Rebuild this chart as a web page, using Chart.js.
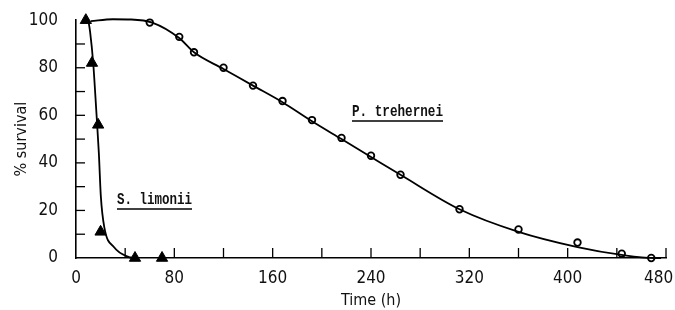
<!DOCTYPE html>
<html>
<head>
<meta charset="utf-8">
<script src="https://cdn.jsdelivr.net/npm/chart.js@4/dist/chart.umd.min.js"></script>
<style>
  html, body { margin: 0; padding: 0; background: #fff; }
  #wrap { width: 675px; height: 310px; position: relative; }
</style>
</head>
<body>
<div id="wrap"><canvas id="chart" width="675" height="310"></canvas></div>
<script>
// measured points, time (h) vs % survival
const trehTime = [60, 84, 96, 120, 144, 168, 192, 216, 240, 264, 312, 360, 408, 444, 468];
const trehSurv = [99, 93, 86.5, 80, 72.5, 66, 58, 50.5, 43, 35, 20.5, 12, 6.5, 1.8, 0];
const limTime = [8, 13, 18, 20, 48, 70];
const limSurv = [100, 82, 56, 11, 0, 0];

// fitted curves as drawn on the figure
const trehCurveTime = [12, 30, 45, 62, 84, 96, 120, 144, 168, 192, 216, 240, 264, 312, 360, 408, 444, 470, 476];
const trehCurveSurv = [99.6, 100.4, 100.3, 99, 92.5, 86.5, 79.5, 72.5, 65.5, 57.5, 50, 42.5, 35, 20.5, 11, 4.6, 1.3, 0, 0];
const limCurveTime = [10, 11.5, 14, 16.5, 18.6, 20.2, 23, 31, 43, 47];
const limCurveSurv = [100, 95, 82, 62, 44, 26, 13, 4.5, 0.4, 0];

const xTicks = [0, 80, 160, 240, 320, 400, 480];
const yTicks = [0, 20, 40, 60, 80, 100];

const pts = (xs, ys) => xs.map((x, i) => ({ x: x, y: ys[i] }));
const font = "'Liberation Sans Narrow', 'DejaVu Sans Condensed', sans-serif";

const labels = [
  { text: "P. trehernei", x: 352, y: 116, w: 91, line: 121 },
  { text: "S. limonii", x: 117, y: 204, w: 75, line: 209 }
];

const decor = {
  id: "decor",
  afterDraw(chart) {
    const ctx = chart.ctx;
    const xs = chart.scales.x, ys = chart.scales.y;
    ctx.save();
    ctx.strokeStyle = "#000";
    ctx.lineWidth = 1.3;
    // inward ticks
    for (let v = 40; v <= 480; v += 40) {
      const px = xs.getPixelForValue(v);
      ctx.beginPath(); ctx.moveTo(px, ys.bottom); ctx.lineTo(px, ys.bottom - 10); ctx.stroke();
    }
    for (let v = 10; v <= 90; v += 10) {
      const py = ys.getPixelForValue(v);
      ctx.beginPath(); ctx.moveTo(xs.left, py); ctx.lineTo(xs.left + 9, py); ctx.stroke();
    }
    // species labels
    ctx.fillStyle = "#111";
    ctx.font = "bold 16px 'Liberation Mono', 'DejaVu Sans Mono', monospace";
    ctx.textBaseline = "alphabetic";
    labels.forEach(l => {
      ctx.fillText(l.text, l.x, l.y, l.w);
      ctx.beginPath(); ctx.moveTo(l.x, l.line); ctx.lineTo(l.x + l.w, l.line); ctx.stroke();
    });
    ctx.restore();
  }
};

new Chart(document.getElementById("chart"), {
  type: "scatter",
  data: {
    datasets: [
      {
        data: pts(trehCurveTime, trehCurveSurv), showLine: true, borderColor: "#000", borderWidth: 1.8,
        pointRadius: 0, cubicInterpolationMode: "monotone", clip: false
      },
      {
        data: pts(limCurveTime, limCurveSurv), showLine: true, borderColor: "#000", borderWidth: 1.8,
        pointRadius: 0, cubicInterpolationMode: "monotone", clip: false
      },
      {
        data: pts(trehTime, trehSurv), pointStyle: "circle", pointRadius: 3.3,
        pointBackgroundColor: "#fff", pointBorderColor: "#000", pointBorderWidth: 1.8, clip: false
      },
      {
        data: pts(limTime, limSurv), pointStyle: "triangle", pointRadius: 6.5,
        pointBackgroundColor: "#000", pointBorderColor: "#000", pointBorderWidth: 1, clip: false
      }
    ]
  },
  options: {
    responsive: false,
    animation: false,
    layout: { padding: { top: 17, right: 0, left: 12, bottom: 0 } },
    plugins: { legend: { display: false }, tooltip: { enabled: false } },
    scales: {
      x: {
        type: "linear", min: 0, max: 480,
        afterBuildTicks: s => { s.ticks = xTicks.map(v => ({ value: v })); },
        afterFit: s => { s.height = 52; s.paddingRight = 9; },
        ticks: {
          color: "#111", font: { family: font, size: 17 }, padding: 2, maxRotation: 0,
          // last label sits left of its tick, as on the figure
          callback: v => v === 480 ? "480\u00a0\u00a0\u00a0" : String(v)
        },
        grid: { display: false },
        border: { display: true, color: "#000", width: 1.6 },
        title: { display: true, text: "Time (h)", color: "#111", font: { family: font, size: 16 }, padding: { top: 4, bottom: 0 } }
      },
      y: {
        min: 0, max: 100,
        afterBuildTicks: s => { s.ticks = yTicks.map(v => ({ value: v })); },
        afterFit: s => { s.width = 64; },
        ticks: { color: "#111", font: { family: font, size: 17 }, padding: 10 },
        grid: { display: false },
        border: { display: true, color: "#000", width: 1.6 },
        title: { display: true, text: "% survival", color: "#111", font: { family: font, size: 16 }, padding: { top: 0, bottom: 0 } }
      }
    }
  },
  plugins: [decor]
});
</script>
</body>
</html>
